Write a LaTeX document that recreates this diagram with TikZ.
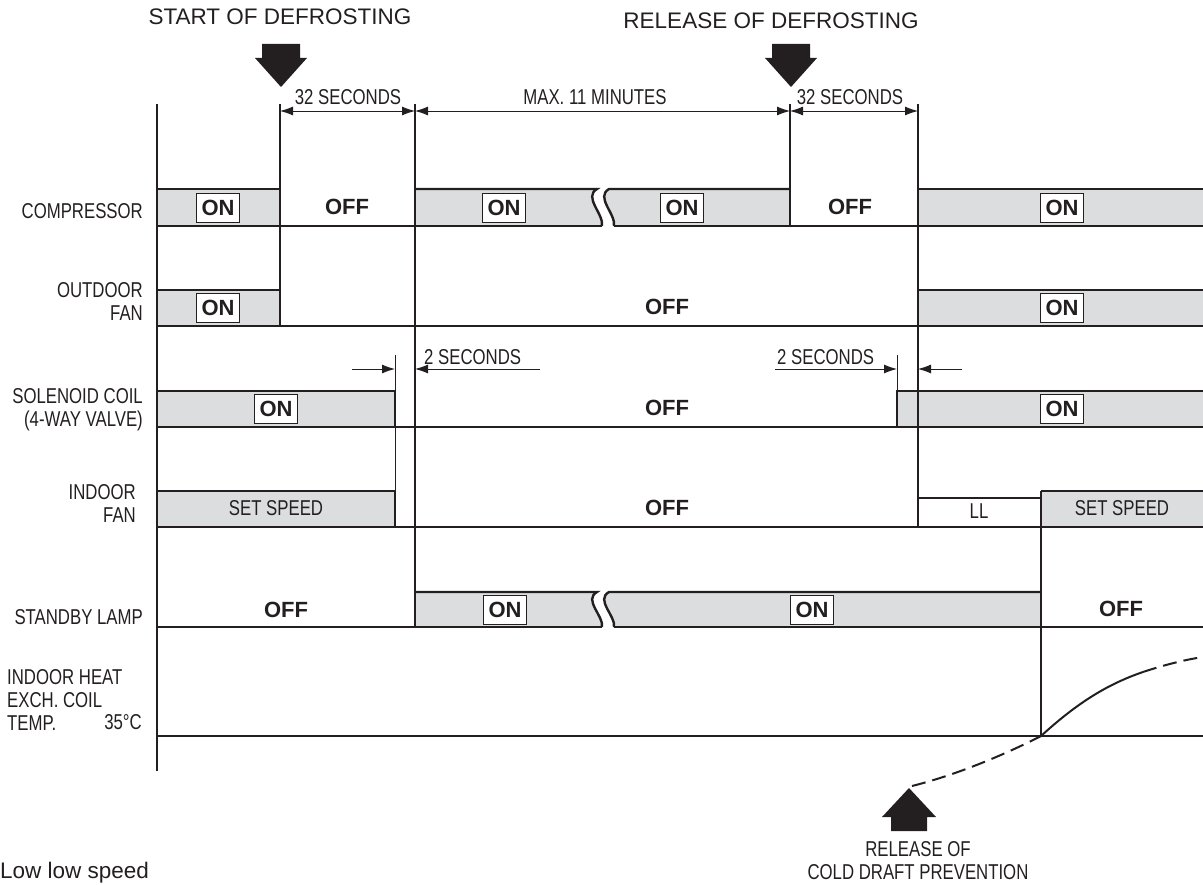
\documentclass[tikz,border=0pt]{standalone}
\usepackage{fontspec}
\setmainfont{Liberation Sans}
\newfontfamily\condfont[FakeStretch=0.78]{Liberation Sans}
\usepackage{xcolor}
\usetikzlibrary{arrows.meta}
\definecolor{ink}{HTML}{231F20}
\definecolor{bandgrey}{HTML}{DCDDDF}

\begin{document}
\begin{tikzpicture}[x=1pt, y=-1pt,
  sig/.style={line width=2.4pt, draw=ink},
  vline/.style={line width=2pt, draw=ink},
  fine/.style={line width=0.9pt, draw=ink},
  band/.style={fill=bandgrey},
  lbl/.style={font=\condfont\fontsize{21.5}{23}\selectfont, text=ink, inner sep=0pt},
  lblr/.style={lbl, anchor=east, align=right},
  stlbl/.style={font=\bfseries\fontsize{22}{24}\selectfont, text=ink, inner sep=0pt},
  onbox/.style={stlbl, draw=ink, line width=0.9pt, fill=white, minimum width=43pt, minimum height=29pt},
  note/.style={font=\fontsize{22.5}{26}\selectfont, text=ink, inner sep=0pt},
  tip/.style={-{Latex[length=13pt,width=9pt]}},
  dim/.style={fine, {Latex[length=13pt,width=9pt]}-{Latex[length=13pt,width=9pt]}}
]
\useasboundingbox (0,0) rectangle (1203,885);

% grey "on" areas
\fill[band] (157,189) rectangle (280,226);
\fill[band] (415,189) -- (597,189) .. controls (583,197) and (604,214) .. (602,226) -- (415,226) -- cycle;
\fill[band] (609,189) .. controls (595,197) and (616,214) .. (614,226) -- (790,226) -- (790,189) -- cycle;
\fill[band] (918,189) rectangle (1203,226);
\fill[band] (157,290) rectangle (280,326);
\fill[band] (918,290) rectangle (1203,326);
\fill[band] (157,391) rectangle (395,427);
\fill[band] (897,391) rectangle (1203,427);
\fill[band] (157,491) rectangle (395,527);
\fill[band] (1041,491) rectangle (1203,527);
\fill[band] (415,592) -- (597,592) .. controls (583,600) and (604,616) .. (602,627) -- (415,627) -- cycle;
\fill[band] (609,592) .. controls (595,600) and (616,616) .. (614,627) -- (1041,627) -- (1041,592) -- cycle;

% signal levels
\draw[sig] (157,189) -- (280,189) (918,189) -- (1203,189);
\draw[sig] (415,189) -- (597,189) .. controls (583,197) and (604,214) .. (602,226);
\draw[sig] (614,226) .. controls (616,214) and (595,197) .. (609,189) -- (790,189);
\draw[sig] (157,226) -- (602,226) (614,226) -- (1203,226);
\draw[sig] (157,290) -- (280,290) (918,290) -- (1203,290) (157,326) -- (1203,326);
\draw[sig] (157,391) -- (395,391) -- (395,427) (897,427) -- (897,391) -- (1203,391);
\draw[sig] (157,427) -- (1203,427);
\draw[sig] (157,491) -- (395,491) -- (395,527) (918,498) -- (1041,498) (1041,491) -- (1203,491);
\draw[sig] (157,527) -- (1203,527);
\draw[sig] (415,592) -- (597,592) .. controls (583,600) and (604,616) .. (602,627);
\draw[sig] (614,627) .. controls (616,616) and (595,600) .. (609,592) -- (1041,592);
\draw[sig] (157,627) -- (602,627) (614,627) -- (1203,627);
\draw[sig] (157,736) -- (1203,736);

% time marks
\draw[vline] (157,104) -- (157,771);
\draw[vline] (280,104) -- (280,326);
\draw[vline] (415,104) -- (415,627);
\draw[vline] (790,104) -- (790,226);
\draw[vline] (918,104) -- (918,527);
\draw[vline] (1041,491) -- (1041,736);
\draw[fine] (395,355) -- (395,527) (897,355) -- (897,427);

% durations
\draw[dim] (280,111) -- (415,111);
\draw[dim] (415,111) -- (790,111);
\draw[dim] (790,111) -- (918,111);
\node[lbl] (t1) at (348,97) {32 SECONDS};
\node[lbl] (t2) at (595,97) {MAX. 11 MINUTES};
\node[lbl] (t3) at (850,97) {32 SECONDS};
\draw[fine, tip] (352,369) -- (395,369);
\draw[fine, tip] (540,369) -- (415,369);
\draw[fine, tip] (775,369) -- (897,369);
\draw[fine, tip] (962,369) -- (918,369);
\node[lbl, anchor=west] (s1) at (424,357) {2 SECONDS};
\node[lbl, anchor=west] (s2) at (777,357) {2 SECONDS};

% events
\node[note] (start) at (280,17) {START OF DEFROSTING};
\node[note] (release) at (771,21) {RELEASE OF DEFROSTING};
\foreach \ax in {281,791}
  \fill[ink] (\ax-19,44) -- ++(38,0) -- ++(0,14) -- ++(7,0) -- (\ax,87) -- (\ax-26,58) -- ++(7,0) -- cycle;
\fill[ink] (909,788) -- (936,817) -- (927,817) -- (927,831) -- (891,831) -- (891,817) -- (882,817) -- cycle;
\node[lbl, align=center] (cold) at (918,861) {RELEASE OF\\COLD DRAFT PREVENTION};
\node[note, anchor=west] (ll) at (0,873) {Low low speed};

% coil temperature
\draw[sig, line width=2pt, dash pattern=on 14pt off 7pt] (912,786) .. controls (960,774) and (1010,752) .. (1041,736);
\draw[sig, line width=2pt] (1041,736) .. controls (1075,705) and (1105,685) .. (1143,672);
\draw[sig, line width=2pt, dash pattern=on 14pt off 7pt] (1143,672) .. controls (1170,663) and (1190,659) .. (1203,657);

% row names
\node[lblr] (comp) at (143,211) {COMPRESSOR};
\node[lblr] (ofan) at (143,301) {OUTDOOR\\FAN};
\node[lblr] (coil) at (143,410) {SOLENOID COIL\\(4-WAY VALVE)};
\node[lblr] (ifan) at (136,503) {INDOOR\\FAN};
\node[lblr] (lamp) at (143,617) {STANDBY LAMP};
\node[lbl, anchor=west, align=left] (temp) at (7,700) {INDOOR HEAT\\EXCH. COIL\\TEMP.};
\node[lblr] (deg) at (142,722) {35°C};

% states
\node[onbox] (c1) at (218,208) {ON};
\node[stlbl] (c2) at (347,207) {OFF};
\node[onbox] (c3) at (504,208) {ON};
\node[onbox] (c4) at (682,208) {ON};
\node[stlbl] (c5) at (850,207) {OFF};
\node[onbox] (c6) at (1062,208) {ON};
\node[onbox] (o1) at (218,308) {ON};
\node[stlbl] (o2) at (667,307) {OFF};
\node[onbox] (o3) at (1062,308) {ON};
\node[onbox] (v1) at (276,409) {ON};
\node[stlbl] (v2) at (667,408) {OFF};
\node[onbox] (v3) at (1062,409) {ON};
\node[lbl] (f1) at (276,508) {SET SPEED};
\node[stlbl] (f2) at (667,508) {OFF};
\node[lbl] (f3) at (979,511) {LL};
\node[lbl] (f4) at (1122,508) {SET SPEED};
\node[stlbl] (l1) at (286,610) {OFF};
\node[onbox] (l2) at (505,610) {ON};
\node[onbox] (l3) at (812,610) {ON};
\node[stlbl] (l4) at (1121,609) {OFF};
\end{tikzpicture}
\end{document}
